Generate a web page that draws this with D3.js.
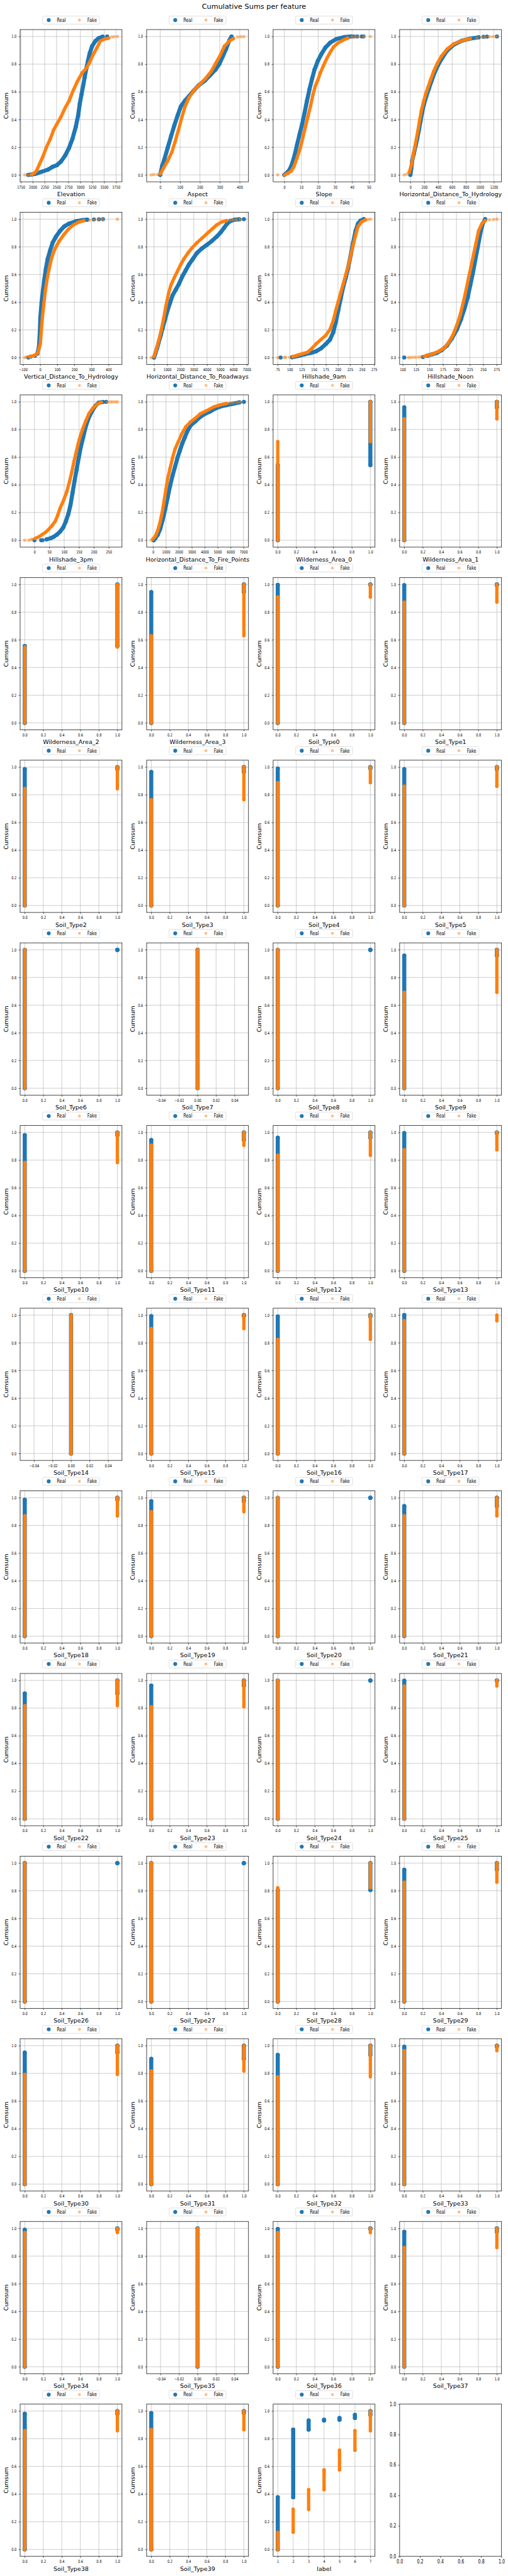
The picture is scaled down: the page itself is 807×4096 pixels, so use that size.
<!DOCTYPE html>
<html><head><meta charset="utf-8">
<script src="https://cdn.jsdelivr.net/npm/d3@7"></script>
<style>
html,body{margin:0;padding:0;background:#fff;}
svg{display:block;}
text{font-family:"DejaVu Sans",sans-serif;fill:#000;}
</style></head><body>
<svg id="chart" width="807" height="4096" viewBox="0 0 1144 5809"></svg>
<script>
// ---------------- DATA ----------------
const chartTitle = "Cumulative Sums per feature";
const seriesNames = ["Real", "Fake"];
const yLabel = "Cumsum";
const cumsumTicks = [0, 0.2, 0.4, 0.6, 0.8, 1.0];

// Continuous features: [value, cumulative share]
const elevationReal = [[1904,0],[1972,0.003],[2059,0.008],[2179,0.022],[2317,0.038],[2420,0.059],[2506,0.07],[2593,0.097],[2679,0.139],[2765,0.197],[2834,0.261],[2903,0.346],[2954,0.431],[2989,0.516],[3023,0.58],[3058,0.643],[3092,0.707],[3127,0.771],[3161,0.824],[3195,0.877],[3247,0.93],[3316,0.967],[3385,0.988],[3471,0.999]];
const elevationRealSparse = [[3564,1.0]];
const elevationFake = [[1972,0.002],[2024,0.012],[2076,0.028],[2145,0.081],[2214,0.134],[2283,0.197],[2369,0.261],[2438,0.325],[2506,0.367],[2593,0.42],[2679,0.484],[2765,0.537],[2851,0.611],[2937,0.675],[3040,0.739],[3127,0.771],[3195,0.813],[3264,0.866],[3350,0.919],[3419,0.967],[3505,0.981],[3592,0.988]];
const elevationFakeSparse = [[1831,0],[1904,0],[3660,0.996],[3712,0.999],[3778,1.0]];
const elevationTicks = [1750,2000,2250,2500,2750,3000,3250,3500,3750];

const aspectReal = [[0,0],[9,0.059],[21,0.113],[38,0.197],[55,0.282],[71,0.357],[88,0.431],[104,0.495],[125,0.537],[145,0.569],[170,0.611],[195,0.649],[224,0.68],[253,0.723],[278,0.76],[298,0.803],[315,0.856],[331,0.909],[348,0.972],[359,1.0]];
const aspectRealSparse = [];
const aspectFake = [[1,0.008],[17,0.049],[38,0.102],[59,0.166],[75,0.24],[92,0.325],[108,0.41],[125,0.495],[145,0.558],[170,0.611],[199,0.654],[228,0.696],[257,0.749],[278,0.803],[303,0.866],[323,0.93],[348,0.967],[369,0.985]];
const aspectFakeSparse = [[-45,0],[-32,0.003],[-14,0.003],[390,0.996],[406,0.998],[421,0.999]];
const aspectTicks = [0,100,200,300,400];

const slopeReal = [[0,0],[1.7,0.017],[3.1,0.038],[4.6,0.081],[6.1,0.144],[7.5,0.219],[9,0.293],[10.5,0.367],[12,0.452],[13.4,0.537],[14.9,0.622],[16.4,0.696],[17.8,0.76],[19.8,0.824],[21.8,0.872],[24.2,0.919],[27.1,0.956],[30.6,0.981],[35.5,0.996],[39.4,1.0]];
const slopeRealSparse = [[40.9,1],[43,1],[45.8,1],[46.7,1]];
const slopeFake = [[0.2,0],[2.2,0.012],[4.1,0.028],[5.6,0.059],[7.5,0.123],[9.5,0.197],[11,0.272],[12.4,0.346],[13.9,0.42],[15.4,0.495],[16.9,0.58],[18.3,0.643],[19.8,0.686],[21.3,0.739],[23.2,0.792],[25.2,0.845],[27.1,0.887],[29.1,0.925],[31.6,0.952],[34.5,0.972],[37.4,0.988]];
const slopeFakeSparse = [[-3.9,0],[39.9,0.996],[41.8,0.997],[43.8,0.998],[46.9,0.999],[50.8,1.0]];
const slopeTicks = [0,10,20,30,40,50];

const hydroHReal = [[0,0],[14,0.049],[26,0.102],[50,0.155],[74,0.208],[98,0.261],[122,0.325],[146,0.389],[169,0.452],[198,0.516],[229,0.569],[265,0.622],[301,0.675],[348,0.739],[396,0.792],[456,0.845],[527,0.898],[623,0.941],[742,0.97],[861,0.985],[981,0.994]];
const hydroHRealSparse = [[1052,0.998],[1100,0.999],[1243,1.0]];
const hydroHFake = [[-17,0.017],[14,0.07],[38,0.134],[62,0.197],[86,0.261],[110,0.325],[134,0.4],[157,0.463],[188,0.527],[217,0.58],[253,0.633],[289,0.686],[336,0.75],[384,0.803],[444,0.856],[527,0.909],[623,0.946],[742,0.97],[861,0.985]];
const hydroHFakeSparse = [[-88,0],[-50,0.006],[957,0.991],[1028,0.995],[1076,0.997],[1136,0.998],[1183,0.999],[1231,1.0]];
const hydroHTicks = [0,200,400,600,800,1000,1200];

const hydroVReal = [[-16,0.029],[-7,0.076],[-2,0.183],[1,0.289],[8,0.395],[16,0.48],[23,0.554],[33,0.639],[44,0.713],[59,0.777],[73,0.83],[92,0.873],[116,0.915],[140,0.947],[169,0.968],[208,0.984],[246,0.993],[275,0.996]];
const hydroVRealSparse = [[-69,0],[-55,0.007],[-31,0.013],[314,0.998],[343,0.999],[367,1.0]];
const hydroVFake = [[-62,0.007],[-38,0.013],[-14,0.034],[1,0.098],[6,0.183],[13,0.289],[22,0.395],[30,0.48],[39,0.554],[52,0.639],[68,0.724],[87,0.788],[111,0.841],[135,0.883],[164,0.926],[193,0.958],[227,0.979],[255,0.989]];
const hydroVFakeSparse = [[-90,0],[-81,0.004],[289,0.993],[313,0.995],[340,0.996],[366,0.998],[451,1.0]];
const hydroVTicks = [-100,0,100,200,300,400];

const roadReal = [[0,0],[99,0.029],[222,0.066],[345,0.108],[505,0.161],[653,0.214],[838,0.278],[1023,0.342],[1207,0.395],[1392,0.448],[1639,0.49],[1885,0.533],[2131,0.586],[2378,0.628],[2624,0.671],[2932,0.713],[3240,0.756],[3610,0.788],[3979,0.814],[4349,0.841],[4719,0.873],[5027,0.904],[5273,0.936],[5519,0.968],[5766,0.987],[6074,0.996],[6443,0.999]];
const roadRealSparse = [[6776,1.0]];
const roadFake = [[0,0.007],[160,0.055],[345,0.119],[530,0.193],[715,0.278],[899,0.374],[1084,0.459],[1269,0.522],[1515,0.575],[1762,0.623],[2008,0.671],[2254,0.713],[2562,0.756],[2870,0.793],[3240,0.83],[3610,0.862],[3979,0.894],[4349,0.926],[4719,0.958],[5088,0.979],[5458,0.989]];
const roadFakeSparse = [[-209,0],[5704,0.993],[5950,0.995],[6197,0.997],[6505,0.999]];
const roadTicks = [0,1000,2000,3000,4000,5000,6000,7000];

const shade9Real = [[104.7,0.002],[116.7,0.011],[130.4,0.023],[144.1,0.034],[154.3,0.045],[164.6,0.066],[174.8,0.098],[183.4,0.13],[190.2,0.183],[195.4,0.257],[200.5,0.342],[205.6,0.427],[210.8,0.512],[215.9,0.575],[221,0.65],[226.1,0.735],[231.3,0.83],[236.4,0.915],[241.5,0.968],[246.6,0.989],[253.5,1.0]];
const shade9RealSparse = [[80.8,0]];
const shade9Fake = [[106.5,0.007],[116.7,0.018],[127,0.029],[137.2,0.039],[145.8,0.066],[154.3,0.098],[164.6,0.13],[174.8,0.161],[183.4,0.204],[190.2,0.268],[195.4,0.342],[200.5,0.406],[205.6,0.469],[210.8,0.533],[215.9,0.597],[221,0.66],[226.1,0.735],[231.3,0.809],[236.4,0.883],[241.5,0.947],[248.4,0.979],[256.9,0.995]];
const shade9FakeSparse = [[75,0],[88.7,0.001],[91,0.001],[99.6,0.002],[262,0.998],[267.1,1.0]];
const shade9Ticks = [75,100,125,150,175,200,225,250,275];

const shadeNoonReal = [[145.2,0.013],[154.5,0.023],[163.8,0.034],[173.1,0.055],[182.4,0.087],[191.7,0.14],[201,0.204],[208.7,0.278],[214.9,0.352],[221.1,0.437],[225.7,0.522],[230.4,0.607],[235,0.703],[239.7,0.798],[244.3,0.894],[249,0.968],[253.6,1.0]];
const shadeNoonRealSparse = [[102.8,0],[137.5,0.004]];
const shadeNoonFake = [[140.6,0.01],[148.3,0.018],[157.6,0.029],[166.9,0.045],[176.2,0.066],[185.5,0.108],[193.2,0.161],[201,0.236],[207.1,0.31],[213.3,0.406],[218,0.49],[222.6,0.575],[227.3,0.66],[231.9,0.745],[236.6,0.83],[241.2,0.915],[247.4,0.968],[253.6,0.989]];
const shadeNoonFakeSparse = [[110.5,0],[114.2,0.001],[119.1,0.002],[123.8,0.002],[129.7,0.004],[134.3,0.004],[261.4,0.995],[269.1,0.998],[275.3,1.0]];
const shadeNoonTicks = [100,125,150,175,200,225,250,275];

const shade3Real = [[53.1,0.014],[64.2,0.024],[75.2,0.04],[86.3,0.062],[97.3,0.094],[105.6,0.136],[113.9,0.19],[121.1,0.253],[127.8,0.339],[134.4,0.424],[141.6,0.509],[148.8,0.594],[155.4,0.669],[163.7,0.743],[172,0.818],[182,0.882],[194.1,0.935],[205.2,0.972],[216.3,0.994],[230.1,0.999]];
const shade3RealSparse = [[0,0],[22.7,0],[27.1,0],[40.4,0.005],[44.8,0.009],[241.2,1.0]];
const shade3Fake = [[3.3,0.014],[14.4,0.024],[25.4,0.04],[36.5,0.056],[47.6,0.078],[58.6,0.104],[69.7,0.136],[78,0.179],[86.3,0.232],[97.3,0.285],[108.4,0.349],[116.7,0.413],[125,0.488],[133.3,0.573],[141.6,0.648],[149.9,0.722],[161,0.797],[172,0.86],[183.1,0.914],[196.9,0.956],[210.7,0.983],[224.6,0.997]];
const shade3FakeSparse = [[-32.6,0],[-18.8,0],[-11.6,0.005],[-6.1,0.009],[245.6,0.999],[256.1,1.0],[263.3,1.0],[271.6,1.0],[278.8,1.0]];
const shade3Ticks = [0,50,100,150,200,250];

const fireReal = [[51,0],[177,0.014],[367,0.04],[557,0.083],[747,0.147],[937,0.222],[1127,0.307],[1316,0.392],[1506,0.466],[1696,0.53],[1886,0.594],[2076,0.648],[2266,0.701],[2456,0.743],[2646,0.786],[2899,0.829],[3279,0.86],[3658,0.892],[4038,0.914],[4418,0.93],[4798,0.951],[5178,0.965],[5684,0.976],[6190,0.986],[6697,0.996]];
const fireRealSparse = [[7026,1.0]];
const fireFake = [[-13,0.009],[177,0.03],[367,0.072],[557,0.136],[747,0.222],[874,0.296],[1000,0.371],[1127,0.445],[1316,0.52],[1506,0.594],[1696,0.658],[1949,0.711],[2203,0.765],[2519,0.818],[2899,0.855],[3279,0.882],[3658,0.914],[4165,0.937],[4671,0.962],[5178,0.978],[5684,0.988]];
const fireFakeSparse = [[-139,0],[5937,0.991],[6190,0.994],[6507,0.996],[6760,0.998]];
const fireTicks = [0,1000,2000,3000,4000,5000,6000,7000];

// Binary (0/1) features: share of rows equal to 0
const binaryNames = ["Wilderness_Area_0","Wilderness_Area_1","Wilderness_Area_2","Wilderness_Area_3",
  "Soil_Type0","Soil_Type1","Soil_Type2","Soil_Type3","Soil_Type4","Soil_Type5","Soil_Type6","Soil_Type7","Soil_Type8","Soil_Type9",
  "Soil_Type10","Soil_Type11","Soil_Type12","Soil_Type13","Soil_Type14","Soil_Type15","Soil_Type16","Soil_Type17","Soil_Type18","Soil_Type19",
  "Soil_Type20","Soil_Type21","Soil_Type22","Soil_Type23","Soil_Type24","Soil_Type25","Soil_Type26","Soil_Type27","Soil_Type28","Soil_Type29",
  "Soil_Type30","Soil_Type31","Soil_Type32","Soil_Type33","Soil_Type34","Soil_Type35","Soil_Type36","Soil_Type37","Soil_Type38","Soil_Type39"];
const realZeroShare = [0.543,0.96,0.555,0.945,
  0.997,0.995,0.985,0.965,0.99,0.985,0.999,1,0.999,0.958,
  0.98,0.945,0.962,0.995,1,0.993,0.99,1,0.985,0.975,
  0.999,0.94,0.905,0.962,0.999,0.997,0.999,0.999,0.805,0.952,
  0.95,0.905,0.933,0.993,0.99,1,0.995,0.975,0.98,0.985];
const fakeZeroShare = [0.713,0.877,0.548,0.63,
  0.91,0.873,0.845,0.765,0.888,0.862,1,1,1,0.693,
  0.783,0.908,0.835,0.875,1,0.903,0.825,0.96,0.87,0.9,
  1,0.87,0.818,0.81,1,0.96,1,1,0.822,0.862,
  0.793,0.818,0.776,0.965,0.97,1,0.97,0.862,0.858,0.866];
const binaryTicks = [0,0.2,0.4,0.6,0.8,1.0];
const singleValueTicks = [-0.04,-0.02,0,0.02,0.04];

// label feature: classes and cumulative share at each class
const labelClasses = [1,2,3,4,5,6,7];
const labelRealCum = [0.377,0.866,0.932,0.937,0.95,0.972,1.0];
const labelFakeCum = [0.125,0.29,0.432,0.575,0.717,0.858,1.0];
const emptyTicks = [0,0.2,0.4,0.6,0.8,1.0];

// ---------------- LAYOUT / STYLE ----------------
const COL_X0 = 45.1, COL_STEP = 285, AX_W = 229.5;
const ROW_Y0 = 66.7, ROW_STEP = 411.9, AX_H = 343.3;
const BLUE = "#1f77b4", ORANGE = "#ff7f0e";
const R_REAL = 4.6, R_FAKE = 3.7;
const GRID = "#b0b0b0";

const continuous = [
  {name:"Elevation", real:elevationReal, realSparse:elevationRealSparse, fake:elevationFake, fakeSparse:elevationFakeSparse, ticks:elevationTicks},
  {name:"Aspect", real:aspectReal, realSparse:aspectRealSparse, fake:aspectFake, fakeSparse:aspectFakeSparse, ticks:aspectTicks},
  {name:"Slope", real:slopeReal, realSparse:slopeRealSparse, fake:slopeFake, fakeSparse:slopeFakeSparse, ticks:slopeTicks},
  {name:"Horizontal_Distance_To_Hydrology", real:hydroHReal, realSparse:hydroHRealSparse, fake:hydroHFake, fakeSparse:hydroHFakeSparse, ticks:hydroHTicks},
  {name:"Vertical_Distance_To_Hydrology", real:hydroVReal, realSparse:hydroVRealSparse, fake:hydroVFake, fakeSparse:hydroVFakeSparse, ticks:hydroVTicks},
  {name:"Horizontal_Distance_To_Roadways", real:roadReal, realSparse:roadRealSparse, fake:roadFake, fakeSparse:roadFakeSparse, ticks:roadTicks},
  {name:"Hillshade_9am", real:shade9Real, realSparse:shade9RealSparse, fake:shade9Fake, fakeSparse:shade9FakeSparse, ticks:shade9Ticks},
  {name:"Hillshade_Noon", real:shadeNoonReal, realSparse:shadeNoonRealSparse, fake:shadeNoonFake, fakeSparse:shadeNoonFakeSparse, ticks:shadeNoonTicks},
  {name:"Hillshade_3pm", real:shade3Real, realSparse:shade3RealSparse, fake:shade3Fake, fakeSparse:shade3FakeSparse, ticks:shade3Ticks},
  {name:"Horizontal_Distance_To_Fire_Points", real:fireReal, realSparse:fireRealSparse, fake:fireFake, fakeSparse:fireFakeSparse, ticks:fireTicks}
];

const svg = d3.select("#chart");
svg.append("rect").attr("width",1144).attr("height",5809).attr("fill","#fff");
svg.append("text").attr("x",572).attr("y",19.3).attr("text-anchor","middle")
  .attr("font-size",16).text(chartTitle);

function padDomain(vals){
  let lo = d3.min(vals), hi = d3.max(vals);
  if (hi - lo === 0) { lo -= 0.05; hi += 0.05; }
  const p = (hi - lo) * 0.05;
  return [lo - p, hi + p];
}

function panelOrigin(i){
  return {L: COL_X0 + (i % 4) * COL_STEP, T: ROW_Y0 + Math.floor(i / 4) * ROW_STEP};
}

const yScale = d3.scaleLinear().domain([-0.05, 1.05]).range([AX_H, 0]);

function setupPanel(i, xDomain, xTicks, xFmt, name){
  const {L, T} = panelOrigin(i);
  const g = svg.append("g").attr("transform", `translate(${L},${T})`);
  const x = d3.scaleLinear().domain(xDomain).range([0, AX_W]);
  // grid
  g.append("g").selectAll("line").data(xTicks).join("line")
    .attr("x1", d => x(d)).attr("x2", d => x(d)).attr("y1", 0).attr("y2", AX_H)
    .attr("stroke", GRID).attr("stroke-width", 0.9);
  g.append("g").selectAll("line").data(cumsumTicks).join("line")
    .attr("x1", 0).attr("x2", AX_W).attr("y1", d => yScale(d)).attr("y2", d => yScale(d))
    .attr("stroke", GRID).attr("stroke-width", 0.9);
  const dataG = g.append("g");
  // axes
  const xa = g.append("g").attr("transform", `translate(0,${AX_H})`)
    .call(d3.axisBottom(x).tickValues(xTicks).tickFormat(xFmt).tickSize(3.5).tickPadding(4.8));
  const ya = g.append("g")
    .call(d3.axisLeft(yScale).tickValues(cumsumTicks).tickFormat(d3.format(".1f")).tickSize(3.5).tickPadding(4.6));
  [xa, ya].forEach(a => {
    a.select(".domain").remove();
    a.selectAll("line").attr("stroke", "#000").attr("stroke-width", 0.9);
    a.selectAll("text").attr("font-size", 9.2).attr("font-family", "DejaVu Sans").attr("class", "cond78");
  });
  g.append("rect").attr("width", AX_W).attr("height", AX_H).attr("fill", "none")
    .attr("stroke", "#111").attr("stroke-width", 1.1);
  // labels
  g.append("text").attr("x", AX_W / 2).attr("y", AX_H + 32.3).attr("text-anchor", "middle")
    .attr("font-size", 13.5).text(name);
  g.append("text").attr("transform", `translate(-26.6,${AX_H / 2}) rotate(-90)`)
    .attr("text-anchor", "middle").attr("font-size", 13.5).text(yLabel);
  // legend
  const lg = g.append("g").attr("transform", `translate(${AX_W / 2 - 64},-30.4)`);
  lg.append("rect").attr("width", 128).attr("height", 18).attr("rx", 2)
    .attr("fill", "#fff").attr("fill-opacity", 0.8).attr("stroke", "#cccccc").attr("stroke-width", 0.9);
  lg.append("circle").attr("cx", 13.7).attr("cy", 9).attr("r", 4.4).attr("fill", BLUE);
  lg.append("text").attr("x", 31.9).attr("y", 13.1).attr("font-size", 11.5).attr("class", "cond82").text(seriesNames[0]);
  lg.append("circle").attr("cx", 82.9).attr("cy", 9).attr("r", 3.3).attr("fill", ORANGE).attr("fill-opacity", 0.5);
  lg.append("text").attr("x", 100.7).attr("y", 13.1).attr("font-size", 11.5).attr("class", "cond82").text(seriesNames[1]);
  return {g: dataG, x};
}

function drawRun(g, x, pts, color, r){
  const line = d3.line().x(d => x(d[0])).y(d => yScale(d[1]));
  g.append("path").attr("d", line(pts)).attr("fill", "none").attr("stroke", color)
    .attr("stroke-width", 2 * r).attr("stroke-linecap", "round").attr("stroke-linejoin", "round");
  g.append("g").selectAll("circle").data(pts).join("circle")
    .attr("cx", d => x(d[0])).attr("cy", d => yScale(d[1])).attr("r", r).attr("fill", color);
}
function drawDots(g, x, pts, color, r, op){
  g.append("g").selectAll("circle").data(pts).join("circle")
    .attr("cx", d => x(d[0])).attr("cy", d => yScale(d[1])).attr("r", r)
    .attr("fill", color).attr("fill-opacity", op);
}

let idx = 0;
// continuous panels
continuous.forEach(f => {
  const xs = f.real.concat(f.realSparse, f.fake, f.fakeSparse).map(d => d[0]);
  const {g, x} = setupPanel(idx++, padDomain(xs), f.ticks, d3.format("d"), f.name);
  drawRun(g, x, f.real, BLUE, R_REAL);
  drawDots(g, x, f.realSparse, BLUE, R_REAL, 1);
  drawRun(g, x, f.fake, ORANGE, R_FAKE);
  drawDots(g, x, f.fakeSparse, ORANGE, R_FAKE, 0.5);
});

// binary panels
binaryNames.forEach((name, k) => {
  const pr = realZeroShare[k], pf = fakeZeroShare[k];
  const single = pr >= 1 && pf >= 1;
  const xs = single ? [0] : [0, 1];
  const {g, x} = setupPanel(idx++, padDomain(xs), single ? singleValueTicks : binaryTicks,
    d3.format(single ? ".2f" : ".1f"), name);
  [[pr, BLUE, R_REAL], [pf, ORANGE, R_FAKE]].forEach(([p, c, r]) => {
    drawRun(g, x, [[0, 0], [0, p]], c, r);
    if (p < 1) drawRun(g, x, [[1, p], [1, 1]], c, r);
  });
});

// label panel
{
  const {g, x} = setupPanel(idx++, padDomain(labelClasses), labelClasses, d3.format("d"), "label");
  [[labelRealCum, BLUE, R_REAL], [labelFakeCum, ORANGE, R_FAKE]].forEach(([cum, c, r]) => {
    labelClasses.forEach((cls, j) => {
      drawRun(g, x, [[cls, j === 0 ? 0 : cum[j - 1]], [cls, cum[j]]], c, r);
    });
  });
}

// empty last panel
{
  const {L, T} = panelOrigin(idx);
  const g = svg.append("g").attr("transform", `translate(${L},${T})`);
  const x = d3.scaleLinear().domain([0, 1]).range([0, AX_W]);
  const y = d3.scaleLinear().domain([0, 1]).range([AX_H, 0]);
  const xa = g.append("g").attr("transform", `translate(0,${AX_H})`)
    .call(d3.axisBottom(x).tickValues(emptyTicks).tickFormat(d3.format(".1f")).tickSize(3.5).tickPadding(4.5));
  const ya = g.append("g")
    .call(d3.axisLeft(y).tickValues(emptyTicks).tickFormat(d3.format(".1f")).tickSize(3.5).tickPadding(4.5));
  [xa, ya].forEach(a => {
    a.select(".domain").remove();
    a.selectAll("line").attr("stroke", "#000").attr("stroke-width", 0.9);
    a.selectAll("text").attr("font-size", 11.4).attr("font-family", "DejaVu Sans").attr("class", "cond80");
  });
  g.append("rect").attr("width", AX_W).attr("height", AX_H).attr("fill", "none")
    .attr("stroke", "#111").attr("stroke-width", 1.1);
}

// narrow the small texts to match the reference rendering
function condense(sel, f){
  sel.each(function(){
    const l = this.getComputedTextLength();
    d3.select(this).attr("textLength", l * f).attr("lengthAdjust", "spacingAndGlyphs");
  });
}
condense(svg.selectAll("text.cond78"), 0.78);
condense(svg.selectAll("text.cond82"), 0.82);
condense(svg.selectAll("text.cond80"), 0.80);
</script>
</body></html>
